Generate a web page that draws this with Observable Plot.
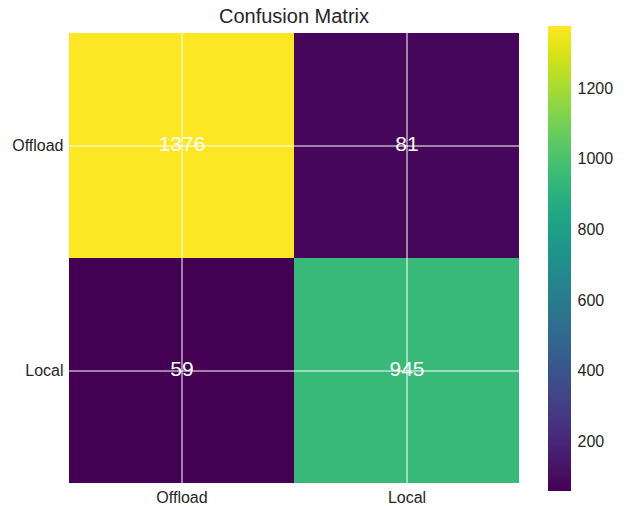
<!DOCTYPE html>
<html>
<head>
<meta charset="utf-8">
<script src="https://cdn.jsdelivr.net/npm/d3@7"></script>
<script src="https://cdn.jsdelivr.net/npm/@observablehq/plot@0.6"></script>
<style>
  html, body { margin: 0; padding: 0; background: #fff; }
  #wrap { position: relative; width: 626px; height: 506px; font-family: "Liberation Sans", Arial, sans-serif; color: #262626; }
  #title { position: absolute; left: 69px; width: 450px; top: 6px; text-align: center; font-size: 20px; line-height: 20px; }
  #heat { position: absolute; left: 0; top: 0; }
  #bar { position: absolute; left: 540px; top: 0; }
</style>
</head>
<body>
<div id="wrap">
  <div id="heat"></div>
  <div id="bar"></div>
  <div id="title">Confusion Matrix</div>
</div>
<script>
// Class labels (rows = actual, columns = predicted)
const classes = ["Offload", "Local"];
const actual = ["Offload", "Offload", "Local", "Local"];
const predicted = ["Offload", "Local", "Offload", "Local"];
const counts = [1376, 81, 59, 945];
const colorTicks = [200, 400, 600, 800, 1000, 1200];

const cells = counts.map((c, i) => ({actual: actual[i], predicted: predicted[i], count: c}));
const cMin = d3.min(counts), cMax = d3.max(counts);
const colorOpts = {type: "linear", scheme: "viridis", domain: [cMin, cMax]};
const fontFamily = '"Liberation Sans", Arial, sans-serif';

const heat = Plot.plot({
  width: 540,
  height: 506,
  marginLeft: 69,
  marginRight: 21,
  marginTop: 33,
  marginBottom: 23,
  style: {fontFamily, fontSize: "16px", color: "#262626", background: "transparent"},
  x: {domain: classes, padding: 0, tickSize: 0, tickPadding: 8, label: null},
  y: {domain: classes, padding: 0, tickSize: 0, tickPadding: 6, label: null},
  color: colorOpts,
  marks: [
    Plot.cell(cells, {x: "predicted", y: "actual", fill: "count", inset: 0}),
    Plot.ruleX(classes, {x: d => d, stroke: "white", strokeWidth: 1}),
    Plot.ruleY(classes, {y: d => d, stroke: "white", strokeWidth: 1}),
    Plot.text(cells, {x: "predicted", y: "actual", text: d => String(d.count), fill: "white", fontSize: 21, dy: -1.5})
  ]
});
document.getElementById("heat").appendChild(heat);

// Colour bar: a ramp of one-pixel stripes spanning the colour domain
const nStripes = 465;
const step = (cMax - cMin) / nStripes;
const stripes = d3.range(nStripes).map(i => ({lo: cMin + i * step, hi: cMin + (i + 1) * step, mid: cMin + (i + 0.5) * step}));

const bar = Plot.plot({
  width: 86,
  height: 506,
  marginLeft: 8,
  marginRight: 55,
  marginTop: 26,
  marginBottom: 15,
  style: {fontFamily, fontSize: "16px", color: "#262626", background: "transparent"},
  x: {domain: [0, 1], axis: null},
  y: {domain: [cMin, cMax], axis: "right", ticks: colorTicks, tickFormat: d => String(d), tickSize: 0, tickPadding: 6, label: null},
  color: colorOpts,
  marks: [
    Plot.rect(stripes, {x1: 0, x2: 1, y1: "lo", y2: "hi", fill: "mid", shapeRendering: "crispEdges"})
  ]
});
document.getElementById("bar").appendChild(bar);
</script>
</body>
</html>
